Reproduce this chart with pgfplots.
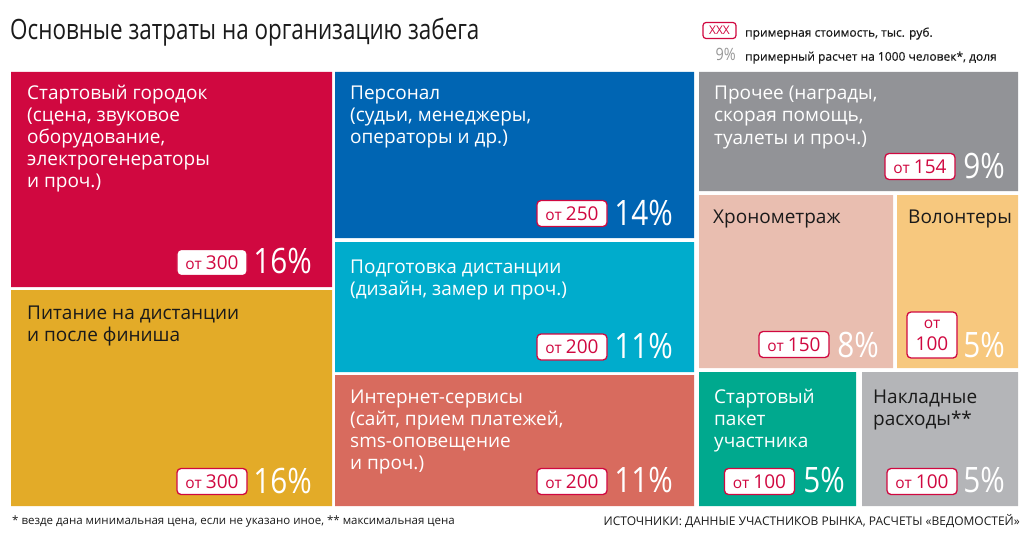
\documentclass[border=0pt]{standalone}
\usepackage{fontspec}
\setmainfont{Open Sans}
\newfontfamily\condfont[FakeStretch=0.85]{Open Sans}
\newfontfamily\titlefam[FakeStretch=0.8]{Open Sans}
\newfontfamily\legfont[FakeBold=0.4]{Open Sans}
\usepackage{pgfplots}
\pgfplotsset{compat=1.18}
\definecolor{cRed}{RGB}{208,8,64}
\definecolor{cGold}{RGB}{227,171,40}
\definecolor{cBlue}{RGB}{0,101,179}
\definecolor{cCyan}{RGB}{0,172,204}
\definecolor{cSalmon}{RGB}{216,107,94}
\definecolor{cGray}{RGB}{146,147,151}
\definecolor{cPink}{RGB}{233,190,176}
\definecolor{cOrange}{RGB}{247,200,126}
\definecolor{cTeal}{RGB}{0,169,142}
\definecolor{cLGray}{RGB}{180,181,184}
\definecolor{cText}{RGB}{26,26,26}
\definecolor{cLeg}{RGB}{150,150,150}
\newcommand{\bodyfont}{\fontsize{19bp}{22bp}\selectfont}
\newcommand{\pctfont}{\condfont\fontsize{35bp}{35bp}\selectfont}
% rectangle: x1 y1 x2 y2 colour
\newcommand{\rect}[5]{\addplot[draw=none, fill=#5, forget plot] coordinates {(#1,#2) (#3,#2) (#3,#4) (#1,#4) (#1,#2)};}
\newcommand{\tl}[4][white]{\node[anchor=base west, inner sep=0, text=#1, font=\bodyfont] at (axis cs:#2,#3) {#4};}
\newcommand{\badge}[3]{\node[draw=cRed, line width=1.3bp, fill=white, rounded corners=4bp, minimum width=70bp, minimum height=26bp, inner sep=0, text=cRed] at (axis cs:#1,#2) {{\fontsize{15.5bp}{15bp}\selectfont от}\hspace{4bp}{\fontsize{19bp}{19bp}\selectfont #3}};}
\newcommand{\pct}[3]{\node[anchor=base east, inner sep=0, text=white, font=\pctfont] at (axis cs:#1,#2) {#3\%};}
\begin{document}
\begin{tikzpicture}
\begin{axis}[
  width=1031bp, height=542bp, scale only axis,
  xmin=0, xmax=1031, ymin=0, ymax=542, y dir=reverse,
  hide axis, clip=false, anchor=south west, at={(0,0)}]
% tiles
\rect{11}{72}{332}{287}{cRed}
\rect{11}{290}{332}{506}{cGold}
\rect{335}{72}{694}{238}{cBlue}
\rect{335}{242}{694}{372}{cCyan}
\rect{335}{375}{694}{506}{cSalmon}
\rect{699}{72}{1018}{191}{cGray}
\rect{699}{195}{893}{368}{cPink}
\rect{897}{195}{1018}{368}{cOrange}
\rect{699}{372}{856}{506}{cTeal}
\rect{862}{372}{1018}{506}{cLGray}
% title
\node[anchor=base west, inner sep=0, text=cText, font=\titlefam\fontsize{28bp}{28bp}\selectfont] at (axis cs:10,40) {Основные затраты на организацию забега};
% legend
\node[draw=cRed, line width=1.2bp, fill=white, rounded corners=3bp, minimum width=33bp, minimum height=16bp, inner sep=0, text=cRed, font=\fontsize{12bp}{12bp}\selectfont] at (axis cs:719.5,30.5) {XXX};
\node[anchor=base west, inner sep=0, text=cText, font=\legfont\fontsize{12bp}{12bp}\selectfont] at (axis cs:745,36.7) {примерная стоимость, тыс. руб.};
\node[anchor=base east, inner sep=0, text=cLeg, font=\condfont\fontsize{17bp}{17bp}\selectfont] at (axis cs:736,60.7) {9\%};
\node[anchor=base west, inner sep=0, text=cText, font=\legfont\fontsize{12bp}{12bp}\selectfont] at (axis cs:745,60.7) {примерный расчет на 1000 человек*, доля};
% Стартовый городок
\tl{27}{99.5}{Стартовый городок}
\tl{27}{121.5}{(сцена, звуковое}
\tl{27}{143.5}{оборудование,}
\tl{27}{165.5}{электрогенераторы}
\tl{27}{187.5}{и проч.)}
\badge{212}{262.5}{300}
\pct{312}{273}{16}
% Питание
\tl[cText]{27}{319}{Питание на дистанции}
\tl[cText]{27}{341}{и после финиша}
\badge{212}{481.5}{300}
\pct{312}{493}{16}
% Персонал
\tl{350}{99.5}{Персонал}
\tl{350}{121.5}{(судьи, менеджеры,}
\tl{350}{143.5}{операторы и др.)}
\badge{572}{213.5}{250}
\pct{673}{225}{14}
% Подготовка дистанции
\tl{350}{273}{Подготовка дистанции}
\tl{350}{295}{(дизайн, замер и проч.)}
\badge{572}{347}{200}
\pct{673}{358}{11}
% Интернет-сервисы
\tl{350}{403}{Интернет-сервисы}
\tl{350}{425}{(сайт, прием платежей,}
\tl{350}{447}{sms-оповещение}
\tl{350}{469}{и проч.)}
\badge{572}{481.5}{200}
\pct{673}{492}{11}
% Прочее
\tl{714}{100}{Прочее (награды,}
\tl{714}{122}{скорая помощь,}
\tl{714}{144}{туалеты и проч.)}
\badge{920}{166.5}{154}
\pct{1005}{178}{9}
% Хронометраж
\tl[cText]{713}{223}{Хронометраж}
\badge{794}{344.5}{150}
\pct{879}{357}{8}
% Волонтеры
\tl[cText]{908}{223}{Волонтеры}
\node[draw=cRed, line width=1.3bp, fill=white, rounded corners=4bp, minimum width=50bp, minimum height=46bp, inner sep=0] at (axis cs:932,335) {};
\node[anchor=base, inner sep=0, text=cRed, font=\fontsize{15.5bp}{15bp}\selectfont] at (axis cs:932,328) {от};
\node[anchor=base, inner sep=0, text=cRed, font=\fontsize{19bp}{19bp}\selectfont] at (axis cs:932,350) {100};
\pct{1005}{357}{5}
% Стартовый пакет
\tl{714}{403}{Стартовый}
\tl{714}{425}{пакет}
\tl{714}{447}{участника}
\badge{759.5}{481.5}{100}
\pct{845}{492}{5}
% Накладные расходы
\tl[cText]{873}{403}{Накладные}
\tl[cText]{873}{425}{расходы**}
\badge{922}{481.5}{100}
\pct{1005}{492}{5}
% footer
\node[anchor=base west, inner sep=0, text=cText, font=\fontsize{11.5bp}{11.5bp}\selectfont] at (axis cs:12,524) {* везде дана минимальная цена, если не указано иное, ** максимальная цена};
\node[anchor=base east, inner sep=0, text=cText, font=\fontsize{12bp}{12bp}\selectfont] at (axis cs:1020,525) {ИСТОЧНИКИ: ДАННЫЕ УЧАСТНИКОВ РЫНКА, РАСЧЕТЫ «ВЕДОМОСТЕЙ»};
\end{axis}
\path (0,0) rectangle (1031bp,542bp);
\end{tikzpicture}
\end{document}
